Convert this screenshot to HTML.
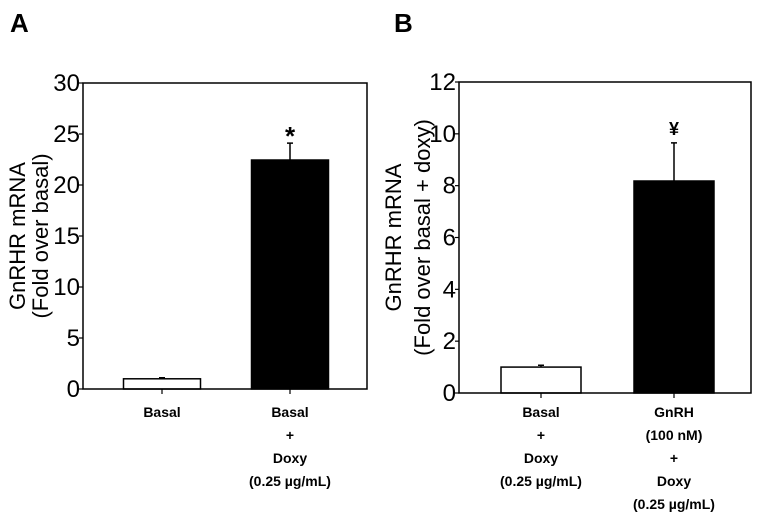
<!DOCTYPE html>
<html><head><meta charset="utf-8"><style>
body{margin:0;background:#fff;width:762px;height:515px;overflow:hidden}
svg text{font-family:"Liberation Sans",sans-serif;fill:#000}
.tk{font-size:24px}
.cl{font-size:14px;font-weight:bold}
.yt{font-size:22px}
</style></head><body>
<svg id="svg" width="762" height="515"></svg>
<script>
const panels=["A","B"];
const catsA=[["Basal"],["Basal","+","Doxy","(0.25 µg/mL)"]];
const catsB=[["Basal","+","Doxy","(0.25 µg/mL)"],["GnRH","(100 nM)","+","Doxy","(0.25 µg/mL)"]];
const valsA=[1.0,22.45];
const errA=[1.1,24.1];
const valsB=[1.0,8.18];
const errB=[1.07,9.65];
const ticksA=[0,5,10,15,20,25,30];
const ticksB=[0,2,4,6,8,10,12];
const marksA=["","*"];
const marksB=["","¥"];
const titleA=["GnRHR mRNA","(Fold over basal)"];
const titleB=["GnRHR mRNA","(Fold over basal + doxy)"];
const svg=document.getElementById('svg');
const NS="http://www.w3.org/2000/svg";
function mk(t,a,p){const e=document.createElementNS(NS,t);for(const k in a)e.setAttribute(k,a[k]);(p||svg).appendChild(e);return e;}
function draw(cfg){
 const g=mk('g',{});
 
 
 const ymax=cfg.ticks[cfg.ticks.length-1];
 const y=v=>cfg.y1-(v/ymax)*(cfg.y1-cfg.y0);
 const L=mk('text',{x:cfg.lx,y:32,'font-size':26,'font-weight':'bold'},g);L.textContent=cfg.letter;
 
 
 cfg.vals.forEach((v,i)=>{
  const cx=cfg.cx[i];
  const b=mk('rect',{x:cx-cfg.bw/2,y:y(v),width:cfg.bw,height:y(0)-y(v),fill:i?'#000':'#fff',stroke:'#000','stroke-width':1.5},g);
  
  
  const e=mk('path',{d:`M${cx} ${y(v)}V${y(cfg.err[i])}M${cx-3} ${y(cfg.err[i])}H${cx+3}`,stroke:'#000','stroke-width':1.5,fill:'none'},g);
  
  
  if(cfg.marks[i]){const m=mk('text',{x:cx,y:y(cfg.err[i])-(cfg.letter=="A"?-2:8),'text-anchor':'middle','font-size':cfg.letter=="A"?26:18,'font-weight':'bold'},g);m.textContent=cfg.marks[i];
   
   }
  mk('line',{x1:cx,x2:cx,y1:cfg.y1,y2:cfg.y1+5,stroke:'#000','stroke-width':1.2},g);
  cfg.cats[i].forEach((s,j)=>{const t=mk('text',{x:cx,y:417+j*23,'text-anchor':'middle',class:'cl'},g);t.textContent=s;
   
   });
 });
 const box=mk('rect',{x:cfg.x0,y:cfg.y0,width:cfg.x1-cfg.x0,height:cfg.y1-cfg.y0,fill:'none',stroke:'#000','stroke-width':1.5},g);
 
 
 cfg.ticks.forEach(t=>{
  mk('line',{x1:cfg.x0-4,x2:cfg.x0,y1:y(t),y2:y(t),stroke:'#000','stroke-width':1.2},g);
  const tx=mk('text',{x:cfg.x0-3,y:y(t)+8,'text-anchor':'end',class:'tk'},g);tx.textContent=t;
  
  
 });
 cfg.title.forEach((s,j)=>{const tx=cfg.tx[j];const t=mk('text',{x:tx,y:(cfg.y0+cfg.y1)/2,'text-anchor':'middle',class:'yt',transform:`rotate(-90 ${tx} ${(cfg.y0+cfg.y1)/2})`},g);t.textContent=s;
  
  });
}
draw({letter:panels[0],lx:10,x0:83,x1:367,y0:83,y1:389,cx:[162,290],bw:77,vals:valsA,err:errA,ticks:ticksA,marks:marksA,cats:catsA,title:titleA,tx:[25,48]});
draw({letter:panels[1],lx:394,x0:459,x1:751,y0:82,y1:393,cx:[541,674],bw:80,vals:valsB,err:errB,ticks:ticksB,marks:marksB,cats:catsB,title:titleB,tx:[401,430]});
</script>
</body></html>
